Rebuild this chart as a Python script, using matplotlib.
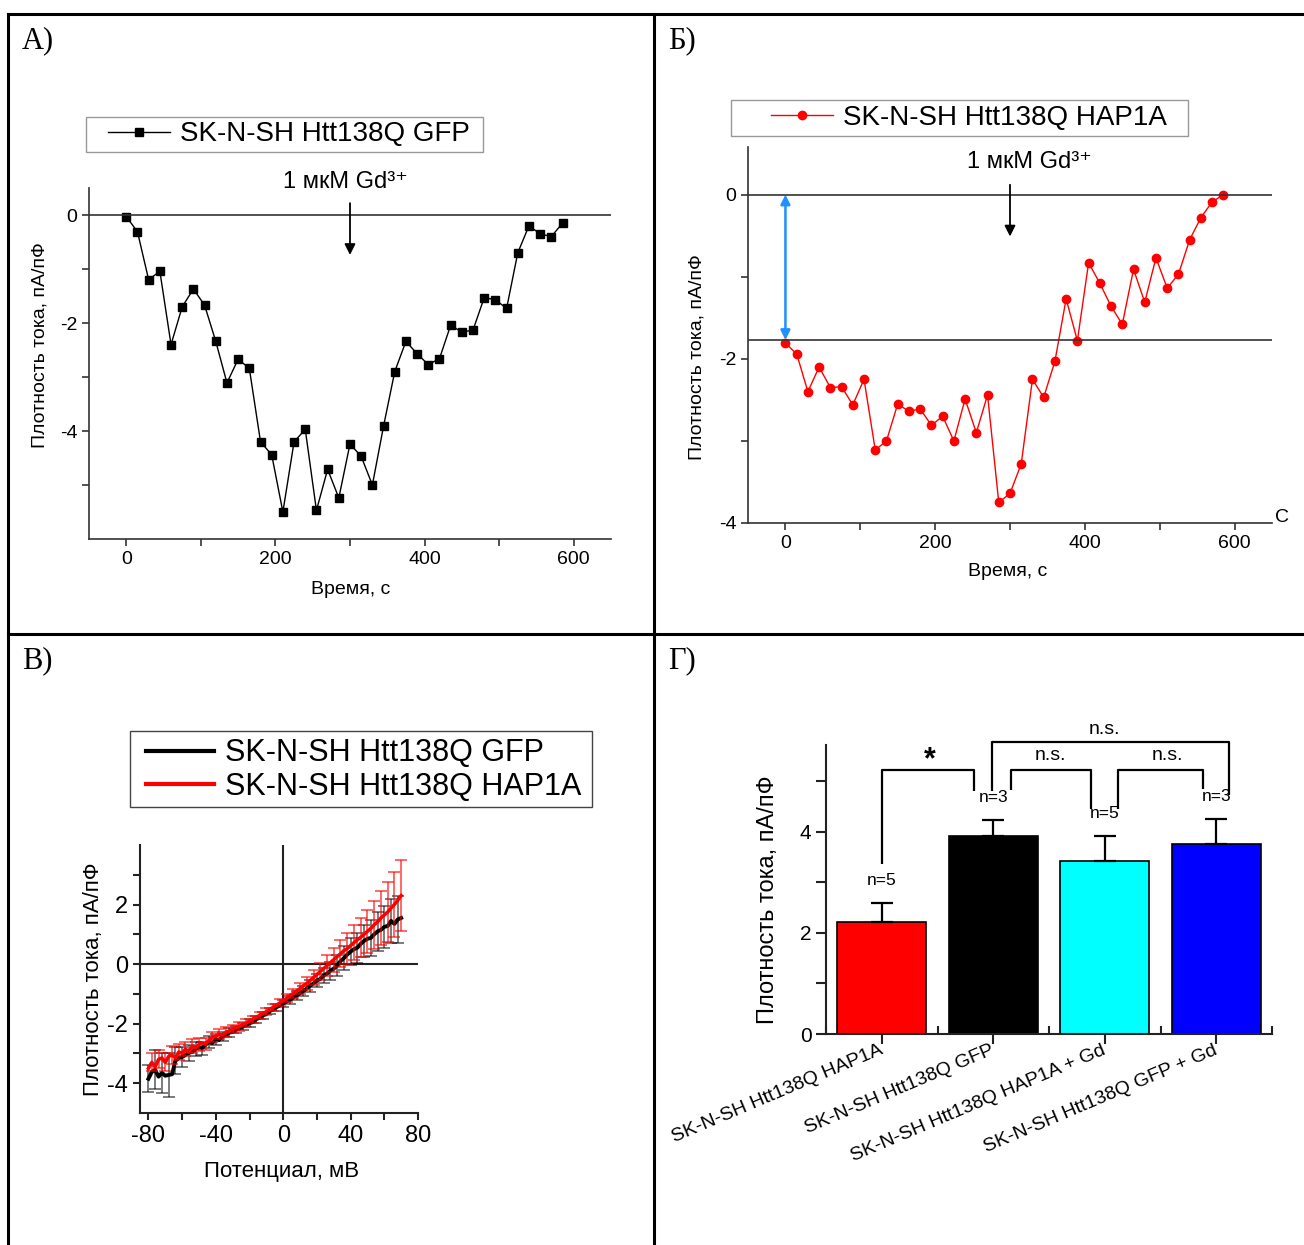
import matplotlib
matplotlib.use('Agg')
import matplotlib.pyplot as plt
from matplotlib.lines import Line2D
from matplotlib.patches import Rectangle

plt.rcParams['font.family'] = ['Liberation Sans', 'DejaVu Sans']
plt.rcParams['axes.unicode_minus'] = False

# ---------------- data ----------------
a_time = [0, 15, 30, 45, 60, 75, 90, 105, 120, 135, 150, 165, 180, 195, 210, 225, 240, 255, 270, 285,
          300, 315, 330, 345, 360, 375, 390, 405, 420, 435, 450, 465, 480, 495, 510, 525, 540, 555, 570, 585]
a_gfp = [-0.03, -0.31, -1.20, -1.04, -2.40, -1.70, -1.37, -1.67, -2.34, -3.11, -2.67, -2.84, -4.20, -4.44,
         -5.50, -4.20, -3.97, -5.47, -4.71, -5.24, -4.24, -4.47, -5.00, -3.91, -2.90, -2.34, -2.57, -2.77,
         -2.66, -2.04, -2.17, -2.13, -1.53, -1.57, -1.73, -0.70, -0.20, -0.35, -0.40, -0.15]
a_label = 'SK-N-SH Htt138Q GFP'

b_time = a_time
b_hap = [-1.81, -1.94, -2.40, -2.10, -2.35, -2.34, -2.56, -2.25, -3.11, -3.00, -2.55, -2.64, -2.61, -2.81,
         -2.70, -3.00, -2.49, -2.90, -2.44, -3.75, -3.64, -3.28, -2.25, -2.47, -2.03, -1.27, -1.78, -0.83,
         -1.08, -1.36, -1.58, -0.91, -1.31, -0.77, -1.14, -0.97, -0.55, -0.28, -0.09, 0.00]
b_baseline = -1.77
b_label = 'SK-N-SH Htt138Q HAP1A'
gd_time = 300

c_voltage = [-80, -78, -76, -74, -72, -70, -68, -66, -64, -62, -60, -58, -56, -54, -52, -50,
             -48, -46, -44, -42, -40, -38, -36, -34, -32, -30, -28, -26, -24, -22, -20, -18,
             -16, -14, -12, -10, -8, -6, -4, -2, 0, 2, 4, 6, 8, 10, 12, 14,
             16, 18, 20, 22, 24, 26, 28, 30, 32, 34, 36, 38, 40, 42, 44, 46,
             48, 50, 52, 54, 56, 58, 60, 62, 64, 66, 68, 70]
c_gfp = [-3.85, -3.62, -3.55, -3.78, -3.65, -3.75, -3.72, -3.70, -3.25, -3.15, -3.12, -3.05, -2.98, -2.95, -2.85, -2.80,
         -2.82, -2.70, -2.62, -2.65, -2.52, -2.55, -2.42, -2.38, -2.30, -2.28, -2.20, -2.15, -2.10, -2.05, -1.98, -1.95,
         -1.85, -1.80, -1.72, -1.68, -1.58, -1.52, -1.45, -1.38, -1.32, -1.25, -1.20, -1.12, -1.05, -0.98, -0.90, -0.82,
         -0.72, -0.65, -0.55, -0.50, -0.38, -0.32, -0.22, -0.15, -0.05, 0.10, 0.20, 0.32, 0.42, 0.50, 0.55, 0.68,
         0.78, 0.85, 0.88, 1.00, 1.10, 1.15, 1.25, 1.28, 1.45, 1.35, 1.50, 1.55]
c_gfp_err = [0.45, 0.60, 0.65, 0.70, 0.68, 0.72, 0.75, 0.70, 0.45, 0.38, 0.32, 0.32, 0.28, 0.26, 0.25, 0.22,
             0.22, 0.20, 0.20, 0.18, 0.18, 0.16, 0.15, 0.15, 0.14, 0.14, 0.13, 0.13, 0.12, 0.12, 0.12, 0.12,
             0.12, 0.11, 0.11, 0.11, 0.11, 0.11, 0.12, 0.12, 0.12, 0.13, 0.13, 0.14, 0.15, 0.16, 0.17, 0.18,
             0.20, 0.21, 0.22, 0.24, 0.26, 0.28, 0.30, 0.32, 0.35, 0.38, 0.40, 0.42, 0.45, 0.48, 0.50, 0.52,
             0.55, 0.58, 0.60, 0.62, 0.65, 0.68, 0.70, 0.72, 0.75, 0.78, 0.80, 0.80]
c_hap = [-3.50, -3.30, -3.45, -3.20, -3.15, -3.30, -3.10, -3.05, -3.15, -2.95, -3.00, -2.85, -2.95, -2.75, -2.80, -2.70,
         -2.65, -2.68, -2.55, -2.45, -2.42, -2.35, -2.38, -2.28, -2.25, -2.18, -2.12, -2.10, -2.02, -1.98, -1.90, -1.85,
         -1.78, -1.72, -1.65, -1.60, -1.52, -1.45, -1.38, -1.30, -1.22, -1.15, -1.05, -0.98, -0.90, -0.82, -0.72, -0.65,
         -0.55, -0.45, -0.35, -0.25, -0.15, -0.05, 0.05, 0.15, 0.25, 0.35, 0.45, 0.52, 0.62, 0.72, 0.82, 0.90,
         1.00, 1.10, 1.20, 1.32, 1.42, 1.55, 1.65, 1.75, 1.88, 2.00, 2.15, 2.30]
c_hap_err = [0.30, 0.30, 0.28, 0.30, 0.28, 0.30, 0.28, 0.30, 0.28, 0.26, 0.26, 0.25, 0.24, 0.23, 0.22, 0.22,
             0.20, 0.20, 0.19, 0.18, 0.18, 0.17, 0.16, 0.16, 0.15, 0.15, 0.14, 0.14, 0.13, 0.13, 0.13, 0.12,
             0.12, 0.12, 0.12, 0.12, 0.12, 0.12, 0.12, 0.12, 0.12, 0.13, 0.14, 0.15, 0.16, 0.18, 0.20, 0.22,
             0.24, 0.26, 0.28, 0.30, 0.32, 0.35, 0.38, 0.40, 0.42, 0.45, 0.48, 0.52, 0.55, 0.58, 0.62, 0.65,
             0.68, 0.72, 0.75, 0.80, 0.85, 0.90, 0.95, 1.00, 1.05, 1.10, 1.15, 1.20]
c_labels = ['SK-N-SH Htt138Q GFP', 'SK-N-SH Htt138Q HAP1A']

d_categories = ['SK-N-SH Htt138Q HAP1A', 'SK-N-SH Htt138Q GFP',
                'SK-N-SH Htt138Q HAP1A + Gd', 'SK-N-SH Htt138Q GFP + Gd']
d_means = [2.22, 3.91, 3.43, 3.77]
d_err = [0.37, 0.32, 0.49, 0.48]
d_n = ['n=5', 'n=3', 'n=5', 'n=3']
d_colors = ['#FF0000', '#000000', '#00FFFF', '#0000FF']

# ---------------- figure ----------------
W, H = 1304, 1245
fig = plt.figure(figsize=(W / 100, H / 100), dpi=100)


def fx(x):
    return x / W


def fy(y):
    return 1 - y / H


def axrect(x0, y0, x1, y1):
    return [fx(x0), fy(y1), (x1 - x0) / W, (y1 - y0) / H]


def box(x0, y0, x1, y1, color):
    fig.add_artist(Rectangle((fx(x0), fy(y1)), (x1 - x0) / W, (y1 - y0) / H, transform=fig.transFigure,
                             fill=False, edgecolor=color, lw=1))


def style(ax, lw=1.2, color='#333333', size=14, length=5):
    for s in ['top', 'right']:
        ax.spines[s].set_visible(False)
    for s in ['left', 'bottom']:
        ax.spines[s].set_linewidth(lw)
        ax.spines[s].set_color(color)
    ax.tick_params(which='both', direction='out', width=lw, color=color, labelsize=size)
    ax.tick_params(which='major', length=length)
    ax.tick_params(which='minor', length=length)


# table borders
for xs, ys in [([8, W], [14, 14]), ([8, 8], [14, H]), ([654, 654], [14, H]), ([8, W], [634, 634])]:
    fig.add_artist(Line2D([fx(v) for v in xs], [fy(v) for v in ys], color='black', lw=2.2,
                          transform=fig.transFigure))

for txt, x, y in [('А)', 22, 48), ('Б)', 668, 48), ('В)', 22, 668), ('Г)', 668, 668)]:
    fig.text(fx(x), fy(y), txt, family=['Liberation Serif', 'DejaVu Serif'], fontsize=22,
             ha='left', va='baseline')

# ---------------- panel A ----------------
axA = fig.add_axes(axrect(89, 188, 611, 539))
axA.plot(a_time, a_gfp, '-s', color='black', lw=1, ms=6, label=a_label)
axA.axhline(0, color='#333333', lw=1.2)
axA.set_xlim(-50, 650)
axA.set_ylim(-6, 0.5)
axA.set_xticks([0, 200, 400, 600])
axA.set_xticks([100, 300, 500], minor=True)
axA.set_yticks([0, -2, -4])
axA.set_yticks([-1, -3, -5], minor=True)
style(axA)
axA.annotate('', xy=(gd_time, -0.74), xytext=(gd_time, 0.22),
             arrowprops=dict(arrowstyle='-|>', color='black', lw=1.3, mutation_scale=16,
                             shrinkA=0, shrinkB=0), annotation_clip=False)
axA.text(294, 0.61, '1 мкМ Gd³⁺', fontsize=17, ha='center', va='center', clip_on=False)
fig.text(fx(351), fy(590), 'Время, с', fontsize=14, ha='center', va='center')
fig.text(fx(40), fy(345), 'Плотность тока, пА/пФ', fontsize=14, ha='center', va='center', rotation=90)
box(86, 117, 483, 152, '#999999')
axA.legend(loc='center left', bbox_to_anchor=(fx(108), fy(134.5)), bbox_transform=fig.transFigure,
           fontsize=20, frameon=False, borderpad=0, handlelength=2.23, handletextpad=0.36,
           borderaxespad=0)

# ---------------- panel B ----------------
axB = fig.add_axes(axrect(748, 147, 1272, 523))
axB.plot(b_time, b_hap, '-o', color='#FF0000', lw=1, ms=6, label=b_label)
axB.axhline(0, color='#333333', lw=1.2)
axB.axhline(b_baseline, color='#333333', lw=1.2)
axB.set_xlim(-50, 650)
axB.set_ylim(-4, 0.58)
axB.set_xticks([0, 200, 400, 600])
axB.set_xticks([100, 300, 500], minor=True)
axB.set_yticks([0, -2, -4])
axB.set_yticks([-1, -3], minor=True)
style(axB)
axB.annotate('', xy=(b_time[0], 0), xytext=(b_time[0], b_baseline),
             arrowprops=dict(arrowstyle='<|-|>', color='#1E90FF', lw=1.8, mutation_scale=14,
                             shrinkA=0, shrinkB=0))
axB.annotate('', xy=(gd_time, -0.51), xytext=(gd_time, 0.12),
             arrowprops=dict(arrowstyle='-|>', color='black', lw=1.3, mutation_scale=16,
                             shrinkA=0, shrinkB=0), annotation_clip=False)
axB.text(326, 0.40, '1 мкМ Gd³⁺', fontsize=17, ha='center', va='center', clip_on=False)
axB.text(663, -3.93, 'С', fontsize=14, ha='center', va='center', clip_on=False)
fig.text(fx(1008), fy(572), 'Время, с', fontsize=14, ha='center', va='center')
fig.text(fx(697), fy(357), 'Плотность тока, пА/пФ', fontsize=14, ha='center', va='center', rotation=90)
box(731, 100, 1188, 136, '#999999')
axB.legend(loc='center left', bbox_to_anchor=(fx(771), fy(118)), bbox_transform=fig.transFigure,
           fontsize=20, frameon=False, borderpad=0, handlelength=2.23, handletextpad=0.36,
           borderaxespad=0)

# ---------------- panel C ----------------
axC = fig.add_axes(axrect(140, 845, 418, 1113))
axC.axhline(0, color='#222222', lw=1.5, zorder=1)
axC.axvline(0, color='#222222', lw=1.5, zorder=1)
axC.errorbar(c_voltage, c_gfp, yerr=c_gfp_err, color='black', lw=2.8, elinewidth=1.1,
             ecolor=(0, 0, 0, 0.65), capsize=4, capthick=1.1, errorevery=2, zorder=2)
axC.errorbar(c_voltage, c_hap, yerr=c_hap_err, color='#FF0000', lw=2.5, elinewidth=1.1,
             ecolor=(1, 0, 0, 0.75), capsize=4, capthick=1.1, errorevery=(1, 2), zorder=3)
axC.set_xlim(-85, 80)
axC.set_ylim(-5, 4)
axC.set_xticks([-80, -40, 0, 40, 80])
axC.set_xticks([-60, -20, 20, 60], minor=True)
axC.set_yticks([2, 0, -2, -4])
axC.set_yticks([3, 1, -1, -3], minor=True)
style(axC, lw=1.5, color='#222222', size=17, length=5)
fig.text(fx(282), fy(1172), 'Потенциал, мВ', fontsize=16, ha='center', va='center')
fig.text(fx(93), fy(979), 'Плотность тока, пА/пФ', fontsize=16, ha='center', va='center', rotation=90)
handles = [Line2D([], [], color='black', lw=3), Line2D([], [], color='#FF0000', lw=3)]
box(130, 731, 592, 807, '#444444')
axC.legend(handles, c_labels, loc='center left', bbox_to_anchor=(fx(146), fy(770)),
           bbox_transform=fig.transFigure, fontsize=22, frameon=False, borderpad=0,
           handlelength=2.22, handletextpad=0.36, borderaxespad=0, labelspacing=0.1)

# ---------------- panel D ----------------
axD = fig.add_axes(axrect(826, 745, 1272, 1034))
pos = list(range(len(d_means)))
axD.bar(pos, d_means, width=0.8, color=d_colors, edgecolor='black', lw=1.2,
        yerr=[[0] * len(d_err), d_err], capsize=8,
        error_kw=dict(elinewidth=1.6, capthick=1.6, ecolor='black'))
axD.set_xlim(-0.5, 3.5)
axD.set_ylim(0, 5.72)
axD.set_yticks([0, 2, 4])
axD.set_yticks([1, 3, 5], minor=True)
style(axD, lw=1.5, color='#222222', size=15, length=7)
axD.set_xticks(pos)
axD.set_xticks([-0.5, 0.5, 1.5, 2.5, 3.5], minor=True)
axD.tick_params(axis='x', which='minor', direction='in', length=6)
axD.set_xticklabels(d_categories, rotation=23, ha='right', va='center', rotation_mode='anchor', fontsize=14)
axD.tick_params(axis='x', which='major', pad=4)
for p, m, e, n in zip(pos, d_means, d_err, d_n):
    axD.text(p, m + e + 0.45, n, fontsize=12.5, ha='center', va='center')

bk = dict(color='black', lw=1.6, clip_on=False, solid_capstyle='butt')
axD.plot([0, 0, 0.83, 0.83], [3.36, 5.23, 5.23, 4.81], **bk)
axD.plot([0.99, 0.99, 3.11, 3.11], [4.81, 5.77, 5.77, 4.73], **bk)
axD.plot([1.16, 1.16, 1.88, 1.88], [4.83, 5.23, 5.23, 4.46], **bk)
axD.plot([2.12, 2.12, 2.88, 2.88], [4.46, 5.23, 5.23, 4.85], **bk)
axD.text(0.43, 5.42, '*', fontsize=22, fontweight='bold', ha='center', va='center', clip_on=False)
axD.text(2.0, 6.02, 'n.s.', fontsize=14, ha='center', va='center', clip_on=False)
axD.text(1.51, 5.52, 'n.s.', fontsize=14, ha='center', va='center', clip_on=False)
axD.text(2.56, 5.52, 'n.s.', fontsize=14, ha='center', va='center', clip_on=False)
fig.text(fx(768), fy(900), 'Плотность тока, пА/пФ', fontsize=17, ha='center', va='center', rotation=90)

fig.savefig('out.png', dpi=100)
